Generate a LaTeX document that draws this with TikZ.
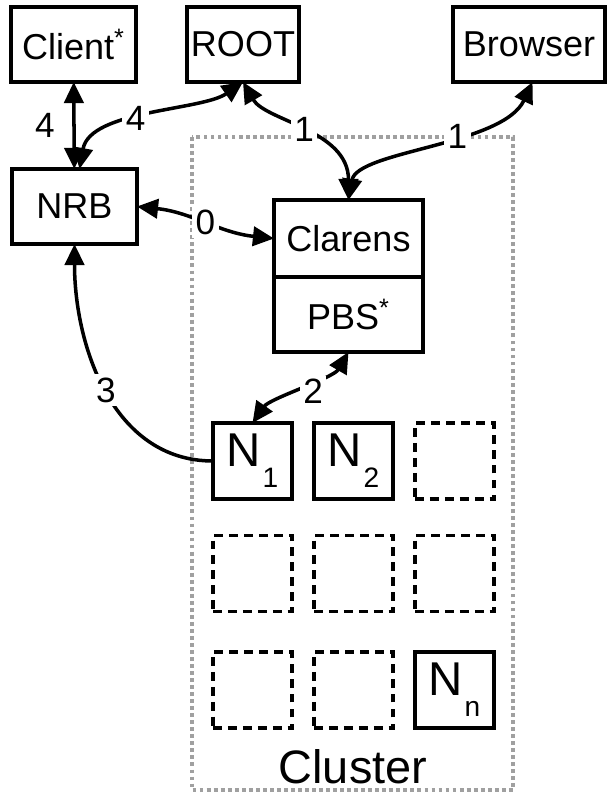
\documentclass[tikz,border=0pt]{standalone}
\usepackage{fontspec}
\setmainfont{Liberation Sans}
\usetikzlibrary{arrows.meta,positioning}
\definecolor{clGray}{RGB}{160,160,160}
\newcommand{\nodeN}[1]{{\fontsize{27}{30}\selectfont N}\kern1pt\raisebox{-12pt}{\fontsize{16}{18}\selectfont #1}}

\begin{document}
\begin{tikzpicture}[x=0.02cm,y=0.02cm,>={Triangle[length=12pt,width=11pt]},line width=2pt,
 box/.style={draw,outer sep=0pt,inner sep=0pt,minimum height=1.5cm,font=\fontsize{20.5}{24}\selectfont},
 nbox/.style={draw,outer sep=0pt,inner sep=0pt,minimum width=1.58cm,minimum height=1.52cm},
 slot/.style={nbox,dash pattern=on 5pt off 3.5pt},
 lbl/.style={fill=white,inner sep=2pt,font=\fontsize{20}{22}\selectfont}]
\useasboundingbox (0,0) rectangle (606,-793);
\draw[clGray,line width=2.4pt,dash pattern=on 2.2pt off 1.8pt] (192,-137) rectangle (513,-790);
\node[box,minimum width=2.5cm] (client) at (73.5,-44.5) {Client\textsuperscript{*}};
\node[box,minimum width=2.24cm] (root) at (243,-44.5) {ROOT};
\node[box,minimum width=3.04cm] (browser) at (529,-44.5) {Browser};
\node[box,minimum width=2.5cm] (nrb) at (74.5,-206.5) {NRB};
\node[box,minimum width=2.98cm,minimum height=1.54cm] (clarens) at (348.5,-238.5) {Clarens};
\node[box,minimum width=2.98cm,below=0pt of clarens] (pbs) {PBS\textsuperscript{*}};
\node[nbox] (n1) at (252.5,-461) {\nodeN{1}}; \node[nbox] (n2) at (353.5,-461) {\nodeN{2}};
\node[nbox] (nn) at (454.5,-690) {\nodeN{n}};
\foreach \x/\y [count=\i] in {454.5/461,252.5/573.5,353.5/573.5,454.5/573.5,252.5/690,353.5/690} \node[slot] (slot\i) at (\x,-\y) {};
\node[font=\fontsize{26.7}{30}\selectfont,anchor=base] (cluster) at (353,-783) {Cluster};
\draw[<->] (client) -- node[lbl,left=8pt]{4} (nrb);
\draw[<->] ([xshift=0.1cm]nrb.north) .. controls +(80:60) and +(215:50) .. node[lbl,pos=0.43]{4} (root.south);
\draw[<->] (root.south) .. controls +(-60:45) and +(90:70) .. node[lbl]{1} (clarens.north);
\draw[<->] ([xshift=2pt]browser.south) .. controls +(-115:70) and +(80:50) .. node[lbl,pos=0.4]{1} (clarens.north);
\draw[<->] (nrb.east) to[out=-6,in=174] node[lbl]{0} (clarens.west);
\draw[->] (n1.west) to[out=180,in=-90] node[lbl]{3} (nrb.south);
\draw[<->] (n1.north) .. controls +(55:30) and +(-120:30) .. node[lbl,pos=0.6,yshift=-6pt]{2} (pbs.south);
\end{tikzpicture}
\end{document}
